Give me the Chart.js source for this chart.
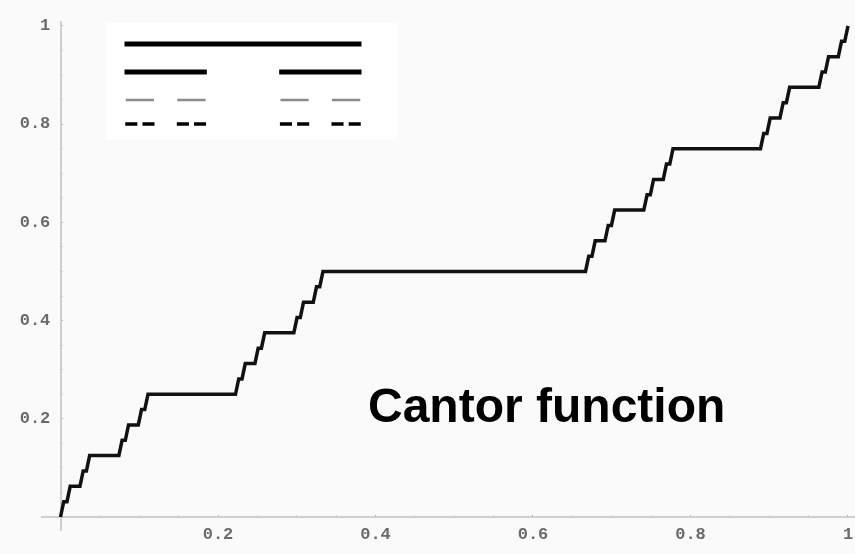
<!DOCTYPE html>
<html>
<head>
<meta charset="utf-8">
<script src="https://cdn.jsdelivr.net/npm/chart.js@4.4.1/dist/chart.umd.min.js"></script>
<style>
  body { margin: 0; background: #fafafa; overflow: hidden; }
  #wrap { position: relative; width: 855px; height: 554px; overflow: hidden; }
  #inset { position: absolute; left: 106px; top: 23px; background: #fff; }
  #label {
    position: absolute; left: 368px; top: 382px;
    font: bold 48px "Liberation Sans", Arial, sans-serif;
    line-height: 48px; color: #000; white-space: nowrap;
  }
</style>
</head>
<body>
<div id="wrap">
  <!-- a bit wider than the page so the last x label does not squeeze the plot -->
  <canvas id="cantorChart" width="880" height="554"></canvas>
  <canvas id="inset" width="291" height="117"></canvas>
  <div id="label">Cantor function</div>
</div>
<script>
// staircase vertices of the Cantor function (plateau ends)
const cantorX = [
  0,
  0.0041, 0.0082, 0.0123, 0.0247, 0.0288, 0.0329, 0.0370, 0.0741,
  0.0782, 0.0823, 0.0864, 0.0988, 0.1029, 0.1070, 0.1111, 0.2222,
  0.2263, 0.2305, 0.2346, 0.2469, 0.2510, 0.2551, 0.2593, 0.2963,
  0.3004, 0.3045, 0.3086, 0.3210, 0.3251, 0.3292, 0.3333, 0.6667,
  0.6708, 0.6749, 0.6790, 0.6914, 0.6955, 0.6996, 0.7037, 0.7407,
  0.7449, 0.7490, 0.7531, 0.7654, 0.7695, 0.7737, 0.7778, 0.8889,
  0.8930, 0.8971, 0.9012, 0.9136, 0.9177, 0.9218, 0.9259, 0.9630,
  0.9671, 0.9712, 0.9753, 0.9877, 0.9918, 0.9959,
  1
];
const cantorY = [
  0,
  0.03125, 0.03125, 0.0625, 0.0625, 0.09375, 0.09375, 0.125, 0.125,
  0.15625, 0.15625, 0.1875, 0.1875, 0.21875, 0.21875, 0.25, 0.25,
  0.28125, 0.28125, 0.3125, 0.3125, 0.34375, 0.34375, 0.375, 0.375,
  0.40625, 0.40625, 0.4375, 0.4375, 0.46875, 0.46875, 0.5, 0.5,
  0.53125, 0.53125, 0.5625, 0.5625, 0.59375, 0.59375, 0.625, 0.625,
  0.65625, 0.65625, 0.6875, 0.6875, 0.71875, 0.71875, 0.75, 0.75,
  0.78125, 0.78125, 0.8125, 0.8125, 0.84375, 0.84375, 0.875, 0.875,
  0.90625, 0.90625, 0.9375, 0.9375, 0.96875, 0.96875,
  1
];

// tick labels (both axes use the same ones, no label at 0)
const tickValues = [0.2, 0.4, 0.6, 0.8, 1];
const tickLabels = ['0.2', '0.4', '0.6', '0.8', '1'];

// inset: Cantor set construction, first four stages
const setLevel0 = [[0, 1]];
const setLevel1 = [[0, 0.3333], [0.6667, 1]];
const setLevel2 = [[0, 0.1111], [0.2222, 0.3333], [0.6667, 0.7778], [0.8889, 1]];
const setLevel3 = [[0, 0.0370], [0.0741, 0.1111], [0.2222, 0.2593], [0.2963, 0.3333],
                   [0.6667, 0.7037], [0.7407, 0.7778], [0.8889, 0.9259], [0.9630, 1]];
const rowY = [0, 1, 2, 2.86];

function findLabel(v) {
  for (let i = 0; i < tickValues.length; i++) {
    if (Math.abs(v - tickValues[i]) < 1e-6) return tickLabels[i];
  }
  return null;
}

function isMajor(v) {
  return findLabel(v) !== null;
}

const tickFont = { family: '"Liberation Mono", "Courier New", monospace', size: 17, weight: 'bold' };
const axisColor = '#cfcfcf';

const points = cantorX.map((x, i) => ({ x: x, y: cantorY[i] }));

new Chart(document.getElementById('cantorChart'), {
  type: 'scatter',
  data: {
    datasets: [{
      data: points,
      showLine: true,
      borderColor: '#111',
      borderWidth: 3.5,
      pointRadius: 0,
      tension: 0,
      borderJoinStyle: 'miter'
    }]
  },
  options: {
    responsive: false,
    animation: false,
    layout: { padding: { left: 42, right: 25, top: 22, bottom: 24 } },
    plugins: { legend: { display: false }, tooltip: { enabled: false } },
    scales: {
      x: {
        type: 'linear',
        position: { y: 0 },
        min: -0.0235,
        max: 1.0089,
        grid: {
          drawOnChartArea: false,
          tickLength: -3,
          tickColor: c => isMajor(c.tick.value) ? '#a8a8a8' : '#cccccc'
        },
        border: { color: axisColor, width: 2 },
        ticks: {
          stepSize: 0.05,
          includeBounds: false,
          autoSkip: false,
          maxRotation: 0,
          padding: 11,
          color: '#6a6a6a',
          font: tickFont,
          callback: v => findLabel(v) || ''
        }
      },
      y: {
        type: 'linear',
        position: { x: 0 },
        min: -0.0265,
        max: 1.0081,
        grid: {
          drawOnChartArea: false,
          tickLength: -3,
          tickColor: c => isMajor(c.tick.value) ? '#a8a8a8' : '#cccccc'
        },
        border: { color: axisColor, width: 2 },
        ticks: {
          stepSize: 0.05,
          includeBounds: false,
          autoSkip: false,
          color: '#6a6a6a',
          font: tickFont,
          callback: v => {
            const t = findLabel(v);
            return t ? t + ' ' : '';
          }
        }
      }
    }
  }
});

// inset chart
function segmentsToData(intervals, y) {
  const out = [];
  intervals.forEach((seg, i) => {
    if (i > 0) out.push({ x: (intervals[i - 1][1] + seg[0]) / 2, y: null });
    out.push({ x: seg[0], y: y });
    out.push({ x: seg[1], y: y });
  });
  return out;
}

const insetRows = [setLevel0, setLevel1, setLevel2, setLevel3];
const insetColors = ['#000', '#000', '#8c8c8c', '#000'];
const insetWidths = [5, 5, 2.5, 3.5];

new Chart(document.getElementById('inset'), {
  type: 'scatter',
  data: {
    datasets: insetRows.map((row, i) => ({
      data: segmentsToData(row, rowY[i]),
      showLine: true,
      spanGaps: false,
      borderColor: insetColors[i],
      borderWidth: insetWidths[i],
      borderCapStyle: 'square',
      pointRadius: 0,
      clip: false
    }))
  },
  options: {
    responsive: false,
    animation: false,
    layout: { padding: { left: 21, right: 38, top: 21, bottom: 16 } },
    plugins: { legend: { display: false }, tooltip: { enabled: false } },
    scales: {
      x: { type: 'linear', min: 0, max: 1, display: false },
      y: { type: 'linear', min: 0, max: 2.86, reverse: true, display: false }
    }
  }
});
</script>
</body>
</html>
